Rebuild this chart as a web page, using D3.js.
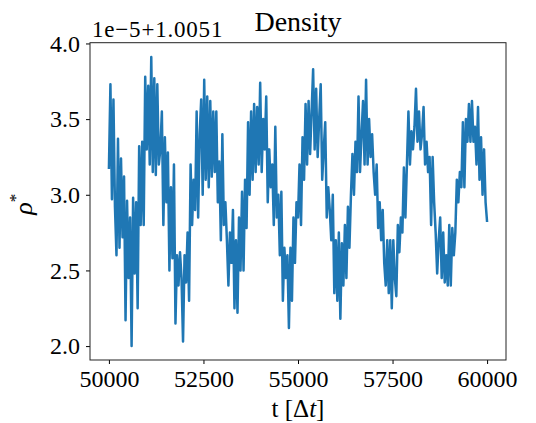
<!DOCTYPE html>
<html>
<head>
<meta charset="utf-8">
<script src="https://cdn.jsdelivr.net/npm/d3@7"></script>
<style>
  body { margin: 0; background: #fff; }
  text { font-family: "Liberation Serif", "DejaVu Serif", serif; }
</style>
</head>
<body>
<div id="chart"></div>
<script>
// density samples, every 40 steps from t = 50000 (value = rho* in units of 1e-5, offset 1.0051)
var tStart = 50000, tStep = 40;
var rhoValues = [
  3.17, 3.73, 2.97, 3.63, 2.92, 2.60, 3.37, 2.65, 3.24, 2.72, 3.12, 2.17, 2.96, 2.45, 2.85, 2.00, 2.98, 2.48, 2.95, 2.25, 3.32, 2.80, 3.35, 2.80, 3.78,
  3.30, 3.72, 3.20, 3.91, 3.15, 3.77, 3.13, 3.73, 3.20, 3.30, 3.55, 2.80, 3.38, 2.95, 3.28, 2.50, 3.05, 2.58, 3.20, 2.15, 2.60, 2.40, 2.62, 2.45, 2.03,
  2.60, 2.42, 2.75, 2.30, 3.20, 2.80, 3.10, 2.90, 3.55, 2.85, 3.40, 3.63, 3.00, 3.76, 3.10, 3.65, 3.05, 3.62, 3.12, 3.55, 3.15, 3.55, 2.95, 3.22, 2.70,
  3.40, 2.80, 2.95, 2.70, 2.40, 2.75, 2.55, 2.90, 2.25, 2.70, 2.22, 2.85, 2.50, 3.02, 2.50, 3.10, 2.78, 3.48, 3.00, 3.55, 3.10, 3.60, 3.15, 3.58, 3.20,
  3.74, 3.15, 3.50, 3.30, 3.65, 2.95, 3.30, 3.05, 3.20, 2.80, 3.45, 2.85, 3.00, 2.60, 3.02, 2.30, 2.65, 2.45, 2.60, 2.12, 2.65, 2.30, 2.85, 2.55, 2.95,
  2.85, 3.20, 2.80, 3.38, 3.10, 3.60, 3.20, 3.62, 3.27, 3.55, 3.83, 3.30, 3.70, 3.25, 3.50, 3.73, 3.10, 3.30, 3.48, 2.85, 3.05, 2.90, 2.70, 3.00, 2.35,
  2.70, 2.30, 2.75, 2.18, 2.68, 2.40, 2.80, 2.45, 2.92, 2.65, 3.00, 3.27, 3.00, 3.35, 3.15, 3.65, 3.15, 3.40, 3.62, 3.20, 3.76, 3.20, 3.50, 3.25, 3.40,
  3.15, 3.00, 3.20, 2.78, 2.95, 2.70, 2.90, 2.55, 2.40, 2.70, 2.35, 2.70, 2.25, 2.70, 2.45, 2.33, 2.80, 2.62, 2.85, 2.75, 3.18, 2.85, 3.20, 3.55, 3.20,
  3.42, 3.30, 3.45, 3.70, 3.35, 3.55, 3.30, 3.40, 3.58, 3.20, 3.35, 3.15, 3.25, 2.80, 3.25, 2.95, 2.75, 2.48, 2.70, 2.85, 2.45, 2.75, 2.42, 2.60, 2.40,
  2.80, 2.40, 2.78, 2.60, 2.75, 3.10, 2.95, 3.15, 3.05, 3.48, 3.05, 3.50, 3.35, 3.60, 3.35, 3.62, 3.35, 3.45, 3.20, 3.58, 3.10, 3.38, 3.00, 3.30, 2.95,
  2.82
];
var xTicks = [50000, 52500, 55000, 57500, 60000];
var yTicks = [2.0, 2.5, 3.0, 3.5, 4.0];

var data = rhoValues.map(function(v, i) { return { t: tStart + i * tStep, rho: v }; });

var margin = { top: 42.7, right: 30, bottom: 63, left: 90 },
    width = 536 - margin.left - margin.right,
    height = 423 - margin.top - margin.bottom;

var svg = d3.select("#chart")
    .append("svg")
    .attr("width", 536)
    .attr("height", 423)
    .append("g")
    .attr("transform", "translate(" + margin.left + "," + margin.top + ")");

var x = d3.scaleLinear()
    .domain([49500, 60500])
    .range([0, width]);

var y = d3.scaleLinear()
    .domain([1.908, 4.005])
    .range([height, 0]);

var xAxis = svg.append("g")
    .attr("transform", "translate(0," + height + ")")
    .call(d3.axisBottom(x).tickValues(xTicks).tickSize(4).tickPadding(6).tickFormat(d3.format("d")));
xAxis.selectAll("text").style("font-size", "24px").style("fill", "#000");

var yAxis = svg.append("g")
    .call(d3.axisLeft(y).tickValues(yTicks).tickSize(4).tickPadding(6).tickFormat(d3.format(".1f")));
yAxis.selectAll("text").style("font-size", "24px").style("fill", "#000");

svg.selectAll(".domain").remove();
svg.selectAll(".tick line").attr("stroke", "#000").attr("stroke-width", 1);

var line = d3.line()
    .x(function(d) { return x(d.t); })
    .y(function(d) { return y(d.rho); });

svg.append("path")
    .datum(data)
    .attr("fill", "none")
    .attr("stroke", "#1f77b4")
    .attr("stroke-width", 2.5)
    .attr("stroke-linejoin", "round")
    .attr("d", line);

// frame
svg.append("rect")
    .attr("x", 0)
    .attr("y", 0)
    .attr("width", width)
    .attr("height", height)
    .attr("fill", "none")
    .attr("stroke", "#222")
    .attr("stroke-width", 1);

svg.append("text")
    .attr("x", width / 2)
    .attr("y", -12)
    .attr("text-anchor", "middle")
    .style("font-size", "28px")
    .text("Density");

svg.append("text")
    .attr("x", 2)
    .attr("y", -6)
    .style("font-size", "23px")
    .style("letter-spacing", "0.8px")
    .text("1e\u22125+1.0051");

var xl = svg.append("text")
    .attr("x", width / 2)
    .attr("y", height + 57)
    .attr("text-anchor", "middle")
    .style("font-size", "25px");
xl.append("tspan").text("t [\u0394");
xl.append("tspan").style("font-style", "italic").text("t");
xl.append("tspan").text("]");

var yl = svg.append("text")
    .attr("transform", "translate(-58," + (height / 2 + 3) + ") rotate(-90)")
    .attr("text-anchor", "middle")
    .style("font-size", "26px");
yl.append("tspan").style("font-style", "italic").text("\u03c1");
yl.append("tspan").attr("dy", -11).style("font-size", "17px").text("*");
</script>
</body>
</html>
